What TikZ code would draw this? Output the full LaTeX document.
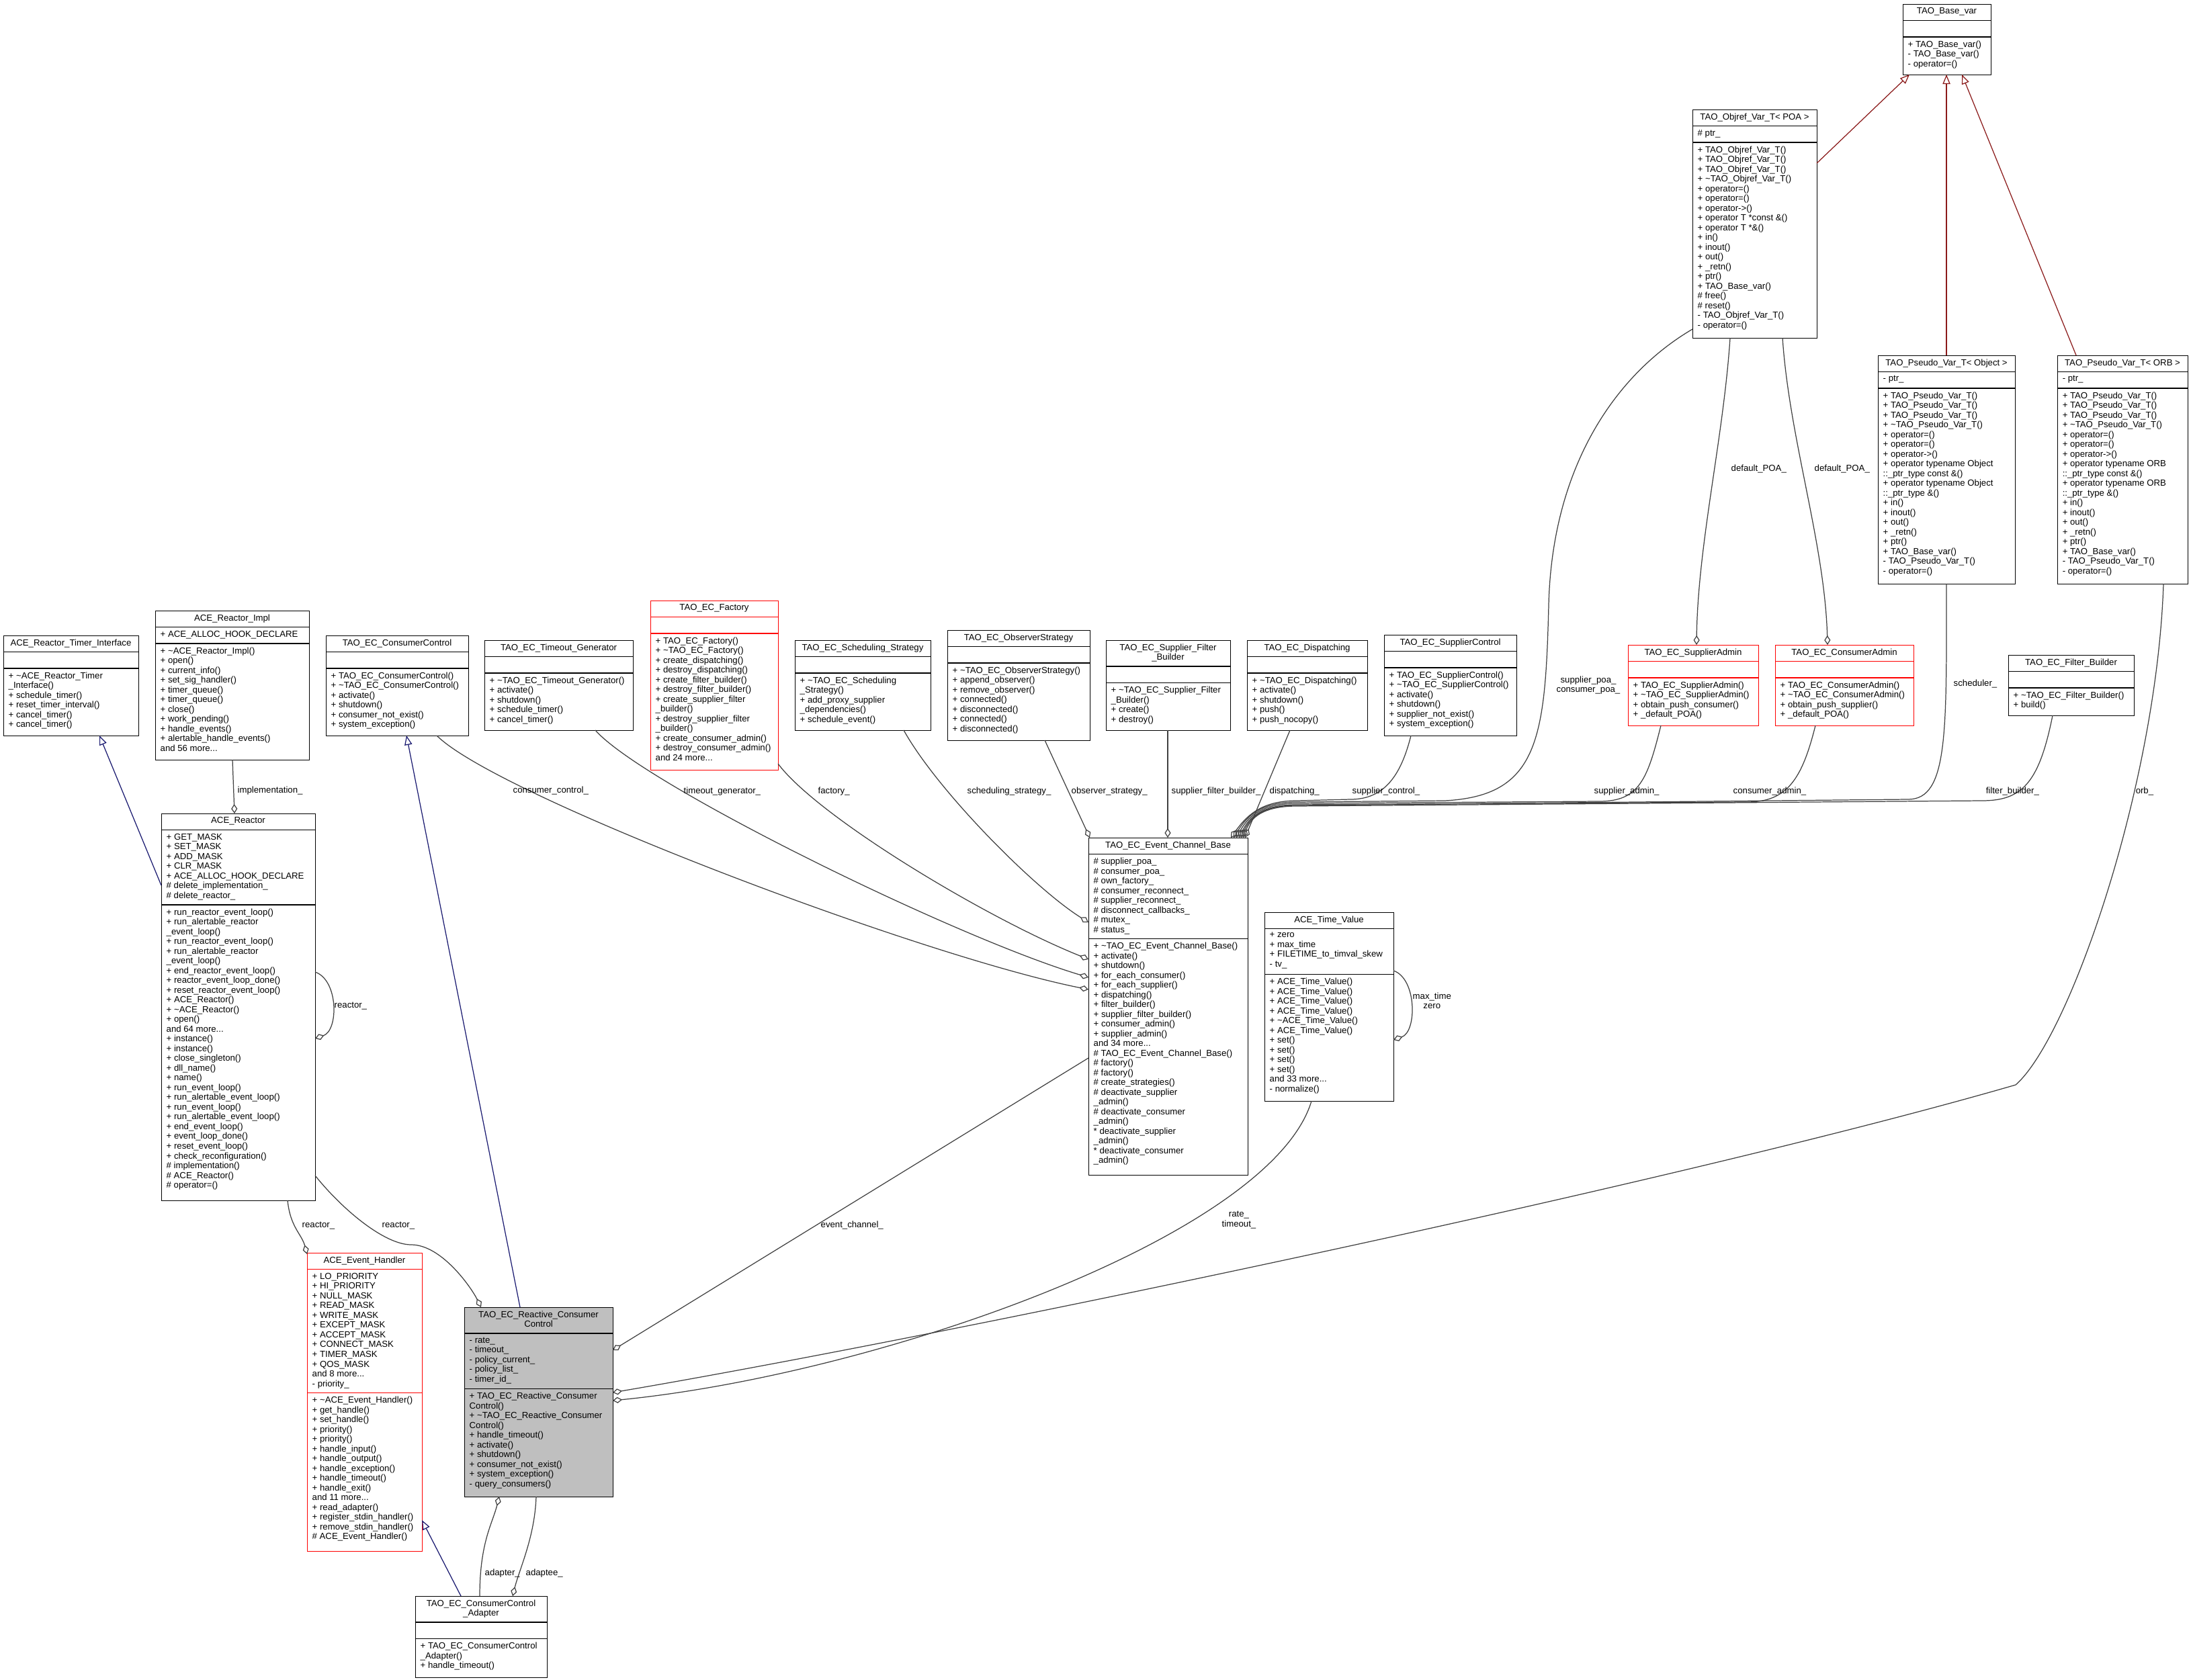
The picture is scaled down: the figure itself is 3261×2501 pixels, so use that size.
\documentclass[tikz,border=0pt]{standalone}
\usepackage{fontspec}
\setmainfont{Liberation Sans}
\usetikzlibrary{calc,arrows.meta}
\definecolor{lnc}{HTML}{404040}
\definecolor{inhblue}{HTML}{191970}
\definecolor{inhred}{HTML}{8B1A1A}
\newcommand\tld{\textasciitilde}
\newcommand\LH{14.5}
\newcommand\umlbox[9]{%
 \pgfmathsetmacro\ua{#3+#6*\LH+10}%
 \pgfmathsetmacro\ub{\ua+max(#7,1)*\LH+10}%
 \node[#8, minimum width={(#4-#2)*0.01cm}, minimum height={(#5-#3)*0.01cm}, anchor=north west, inner sep=0pt] (#1) at (#2,#3) {};
 \draw[#8,fill=none] (#2,\ua) -- (#4,\ua) (#2,\ub) -- (#4,\ub);
 \node[txt, align=center, anchor=north] at ({(#2+#4)/2},{#3+5}) {#9};
 \edef\ux{#2}\edef\uyA{\ua}\edef\uyB{\ub}\umlcont}
\newcommand\umlcont[2]{%
 \node[txt, anchor=north west] at ({\ux+7},{\uyA+5}) {#1};
 \node[txt, anchor=north west] at ({\ux+7},{\uyB+5}) {#2};}
\newcommand\pt[3]{($(#1.north west)+(#2,#3)$)}
\begin{document}
\begin{tikzpicture}[x=0.01cm,y=-0.01cm,
 txt/.style={font=\fontsize{3.75}{4.126}\selectfont, inner sep=0pt, align=left},
 lbl/.style={font=\fontsize{3.75}{4.126}\selectfont, inner sep=0pt, align=center, anchor=west},
 blk/.style={draw=black, line width=0.4pt},
 redb/.style={draw=red, line width=0.4pt},
 grayb/.style={draw=black, fill=black!25, line width=0.4pt},
 agg/.style={draw=lnc, line width=0.35pt, -{Diamond[open,length=4pt,width=2.6pt]}},
 inh/.style={draw=inhblue, line width=0.35pt, -{Triangle[open,length=4pt,width=3.2pt]}},
 tmpl/.style={draw=inhred, line width=0.35pt, -{Triangle[open,length=4pt,width=3.2pt]}}]
\useasboundingbox[fill=white] (0,0) rectangle (3261,2501);

\umlbox{timer}{5}{946}{206}{1095}{1}{0}{blk}{ACE\_Reactor\_Timer\_Interface}{}{+ \tld ACE\_Reactor\_Timer\\\_Interface()\\+ schedule\_timer()\\+ reset\_timer\_interval()\\+ cancel\_timer()\\+ cancel\_timer()}
\umlbox{impl}{231}{909}{460}{1131}{1}{1}{blk}{ACE\_Reactor\_Impl}{+ ACE\_ALLOC\_HOOK\_DECLARE}{+ \tld ACE\_Reactor\_Impl()\\+ open()\\+ current\_info()\\+ set\_sig\_handler()\\+ timer\_queue()\\+ timer\_queue()\\+ close()\\+ work\_pending()\\+ handle\_events()\\+ alertable\_handle\_events()\\and 56 more...}
\umlbox{cc}{485}{946}{697}{1095}{1}{0}{blk}{TAO\_EC\_ConsumerControl}{}{+ TAO\_EC\_ConsumerControl()\\+ \tld TAO\_EC\_ConsumerControl()\\+ activate()\\+ shutdown()\\+ consumer\_not\_exist()\\+ system\_exception()}
\umlbox{tg}{721}{953}{942}{1087}{1}{0}{blk}{TAO\_EC\_Timeout\_Generator}{}{+ \tld TAO\_EC\_Timeout\_Generator()\\+ activate()\\+ shutdown()\\+ schedule\_timer()\\+ cancel\_timer()}
\umlbox{factory}{968}{894}{1158}{1146}{1}{0}{redb}{TAO\_EC\_Factory}{}{+ TAO\_EC\_Factory()\\+ \tld TAO\_EC\_Factory()\\+ create\_dispatching()\\+ destroy\_dispatching()\\+ create\_filter\_builder()\\+ destroy\_filter\_builder()\\+ create\_supplier\_filter\\\_builder()\\+ destroy\_supplier\_filter\\\_builder()\\+ create\_consumer\_admin()\\+ destroy\_consumer\_admin()\\and 24 more...}
\umlbox{sched}{1183}{953}{1385}{1087}{1}{0}{blk}{TAO\_EC\_Scheduling\_Strategy}{}{+ \tld TAO\_EC\_Scheduling\\\_Strategy()\\+ add\_proxy\_supplier\\\_dependencies()\\+ schedule\_event()}
\umlbox{obs}{1410}{938}{1622}{1102}{1}{0}{blk}{TAO\_EC\_ObserverStrategy}{}{+ \tld TAO\_EC\_ObserverStrategy()\\+ append\_observer()\\+ remove\_observer()\\+ connected()\\+ disconnected()\\+ connected()\\+ disconnected()}
\umlbox{sfb}{1646}{953}{1831}{1087}{2}{0}{blk}{TAO\_EC\_Supplier\_Filter\\\_Builder}{}{+ \tld TAO\_EC\_Supplier\_Filter\\\_Builder()\\+ create()\\+ destroy()}
\umlbox{disp}{1856}{953}{2035}{1087}{1}{0}{blk}{TAO\_EC\_Dispatching}{}{+ \tld TAO\_EC\_Dispatching()\\+ activate()\\+ shutdown()\\+ push()\\+ push\_nocopy()}
\umlbox{sc}{2060}{945}{2257}{1095}{1}{0}{blk}{TAO\_EC\_SupplierControl}{}{+ TAO\_EC\_SupplierControl()\\+ \tld TAO\_EC\_SupplierControl()\\+ activate()\\+ shutdown()\\+ supplier\_not\_exist()\\+ system\_exception()}
\umlbox{sa}{2423}{960}{2617}{1080}{1}{0}{redb}{TAO\_EC\_SupplierAdmin}{}{+ TAO\_EC\_SupplierAdmin()\\+ \tld TAO\_EC\_SupplierAdmin()\\+ obtain\_push\_consumer()\\+ \_default\_POA()}
\umlbox{ca}{2642}{960}{2848}{1080}{1}{0}{redb}{TAO\_EC\_ConsumerAdmin}{}{+ TAO\_EC\_ConsumerAdmin()\\+ \tld TAO\_EC\_ConsumerAdmin()\\+ obtain\_push\_supplier()\\+ \_default\_POA()}
\umlbox{fb}{2989}{975}{3176}{1065}{1}{0}{blk}{TAO\_EC\_Filter\_Builder}{}{+ \tld TAO\_EC\_Filter\_Builder()\\+ build()}
\umlbox{base}{2832}{6}{2963}{111}{1}{0}{blk}{TAO\_Base\_var}{}{+ TAO\_Base\_var()\\- TAO\_Base\_var()\\- operator=()}
\umlbox{objref}{2519}{163}{2704}{503}{1}{1}{blk}{TAO\_Objref\_Var\_T< POA >}{\# ptr\_}{+ TAO\_Objref\_Var\_T()\\+ TAO\_Objref\_Var\_T()\\+ TAO\_Objref\_Var\_T()\\+ \tld TAO\_Objref\_Var\_T()\\+ operator=()\\+ operator=()\\+ operator->()\\+ operator T *const \&()\\+ operator T *\&()\\+ in()\\+ inout()\\+ out()\\+ \_retn()\\+ ptr()\\+ TAO\_Base\_var()\\\# free()\\\# reset()\\- TAO\_Objref\_Var\_T()\\- operator=()}
\umlbox{pobj}{2795}{529}{2999}{869}{1}{1}{blk}{TAO\_Pseudo\_Var\_T< Object >}{- ptr\_}{+ TAO\_Pseudo\_Var\_T()\\+ TAO\_Pseudo\_Var\_T()\\+ TAO\_Pseudo\_Var\_T()\\+ \tld TAO\_Pseudo\_Var\_T()\\+ operator=()\\+ operator=()\\+ operator->()\\+ operator typename Object\\::\_ptr\_type const \&()\\+ operator typename Object\\::\_ptr\_type \&()\\+ in()\\+ inout()\\+ out()\\+ \_retn()\\+ ptr()\\+ TAO\_Base\_var()\\- TAO\_Pseudo\_Var\_T()\\- operator=()}
\umlbox{porb}{3062}{529}{3256}{869}{1}{1}{blk}{TAO\_Pseudo\_Var\_T< ORB >}{- ptr\_}{+ TAO\_Pseudo\_Var\_T()\\+ TAO\_Pseudo\_Var\_T()\\+ TAO\_Pseudo\_Var\_T()\\+ \tld TAO\_Pseudo\_Var\_T()\\+ operator=()\\+ operator=()\\+ operator->()\\+ operator typename ORB\\::\_ptr\_type const \&()\\+ operator typename ORB\\::\_ptr\_type \&()\\+ in()\\+ inout()\\+ out()\\+ \_retn()\\+ ptr()\\+ TAO\_Base\_var()\\- TAO\_Pseudo\_Var\_T()\\- operator=()}
\umlbox{ecb}{1620}{1247}{1857}{1749}{1}{8}{blk}{TAO\_EC\_Event\_Channel\_Base}{\# supplier\_poa\_\\\# consumer\_poa\_\\\# own\_factory\_\\\# consumer\_reconnect\_\\\# supplier\_reconnect\_\\\# disconnect\_callbacks\_\\\# mutex\_\\\# status\_}{+ \tld TAO\_EC\_Event\_Channel\_Base()\\+ activate()\\+ shutdown()\\+ for\_each\_consumer()\\+ for\_each\_supplier()\\+ dispatching()\\+ filter\_builder()\\+ supplier\_filter\_builder()\\+ consumer\_admin()\\+ supplier\_admin()\\and 34 more...\\\# TAO\_EC\_Event\_Channel\_Base()\\\# factory()\\\# factory()\\\# create\_strategies()\\\# deactivate\_supplier\\\_admin()\\\# deactivate\_consumer\\\_admin()\\* deactivate\_supplier\\\_admin()\\* deactivate\_consumer\\\_admin()}
\umlbox{tv}{1882}{1358}{2074}{1639}{1}{4}{blk}{ACE\_Time\_Value}{+ zero\\+ max\_time\\+ FILETIME\_to\_timval\_skew\\- tv\_}{+ ACE\_Time\_Value()\\+ ACE\_Time\_Value()\\+ ACE\_Time\_Value()\\+ ACE\_Time\_Value()\\+ \tld ACE\_Time\_Value()\\+ ACE\_Time\_Value()\\+ set()\\+ set()\\+ set()\\+ set()\\and 33 more...\\- normalize()}
\umlbox{reactor}{240}{1211}{469}{1787}{1}{7}{blk}{ACE\_Reactor}{+ GET\_MASK\\+ SET\_MASK\\+ ADD\_MASK\\+ CLR\_MASK\\+ ACE\_ALLOC\_HOOK\_DECLARE\\\# delete\_implementation\_\\\# delete\_reactor\_}{+ run\_reactor\_event\_loop()\\+ run\_alertable\_reactor\\\_event\_loop()\\+ run\_reactor\_event\_loop()\\+ run\_alertable\_reactor\\\_event\_loop()\\+ end\_reactor\_event\_loop()\\+ reactor\_event\_loop\_done()\\+ reset\_reactor\_event\_loop()\\+ ACE\_Reactor()\\+ \tld ACE\_Reactor()\\+ open()\\and 64 more...\\+ instance()\\+ instance()\\+ close\_singleton()\\+ dll\_name()\\+ name()\\+ run\_event\_loop()\\+ run\_alertable\_event\_loop()\\+ run\_event\_loop()\\+ run\_alertable\_event\_loop()\\+ end\_event\_loop()\\+ event\_loop\_done()\\+ reset\_event\_loop()\\+ check\_reconfiguration()\\\# implementation()\\\# ACE\_Reactor()\\\# operator=()}
\umlbox{eh}{457}{1865}{628}{2309}{1}{12}{redb}{ACE\_Event\_Handler}{+ LO\_PRIORITY\\+ HI\_PRIORITY\\+ NULL\_MASK\\+ READ\_MASK\\+ WRITE\_MASK\\+ EXCEPT\_MASK\\+ ACCEPT\_MASK\\+ CONNECT\_MASK\\+ TIMER\_MASK\\+ QOS\_MASK\\and 8 more...\\- priority\_}{+ \tld ACE\_Event\_Handler()\\+ get\_handle()\\+ set\_handle()\\+ priority()\\+ priority()\\+ handle\_input()\\+ handle\_output()\\+ handle\_exception()\\+ handle\_timeout()\\+ handle\_exit()\\and 11 more...\\+ read\_adapter()\\+ register\_stdin\_handler()\\+ remove\_stdin\_handler()\\\# ACE\_Event\_Handler()}
\umlbox{rcc}{691}{1946}{912}{2228}{2}{5}{grayb}{TAO\_EC\_Reactive\_Consumer\\Control}{- rate\_\\- timeout\_\\- policy\_current\_\\- policy\_list\_\\- timer\_id\_}{+ TAO\_EC\_Reactive\_Consumer\\Control()\\+ \tld TAO\_EC\_Reactive\_Consumer\\Control()\\+ handle\_timeout()\\+ activate()\\+ shutdown()\\+ consumer\_not\_exist()\\+ system\_exception()\\- query\_consumers()}
\umlbox{adapter}{618}{2376}{814}{2497}{2}{0}{blk}{TAO\_EC\_ConsumerControl\\\_Adapter}{}{+ TAO\_EC\_ConsumerControl\\\_Adapter()\\+ handle\_timeout()}

% inheritance
\draw[inh] \pt{reactor}{0}{107} -- \pt{timer}{143}{149};
\draw[inh] \pt{rcc}{83}{0} -- \pt{cc}{120}{149};
\draw[inh] \pt{adapter}{68}{0} -- \pt{eh}{171}{398};
\draw[tmpl] \pt{objref}{185}{80} -- \pt{base}{10}{105};
\draw[tmpl] \pt{pobj}{102}{0} -- \pt{base}{65}{105};
\draw[tmpl] \pt{porb}{28}{0} -- \pt{base}{88}{105};

% aggregation
\draw[agg] \pt{impl}{115}{222} -- \pt{reactor}{109}{0};
\node[lbl] at (353,1177) {implementation\_};
\draw[agg] \pt{reactor}{229}{236} .. controls +(35,12) and +(35,-12) .. \pt{reactor}{229}{335};
\node[lbl] at (497,1498) {reactor\_};
\draw[agg] \pt{reactor}{188}{576} .. controls +(4,40) and +(-8,-30) .. \pt{eh}{0}{2};
\node[lbl] at (449,1825) {reactor\_};
\draw[agg] \pt{reactor}{229}{539} .. controls +(40,50) and +(-40,0) .. (612,1853) .. controls +(45,0) and +(-15,-30) .. \pt{rcc}{25}{0};
\node[lbl] at (568,1825) {reactor\_};
\draw[agg] \pt{adapter}{96}{0} .. controls +(0,-80) and +(-10,40) .. \pt{rcc}{52}{282};
\draw[agg] \pt{rcc}{107}{282} .. controls +(-2,60) and +(10,-40) .. \pt{adapter}{145}{0};
\node[lbl] at (721,2342) {adapter\_};
\node[lbl] at (782,2342) {adaptee\_};
\draw[agg] \pt{ecb}{0}{328} -- \pt{rcc}{221}{64};
\node[lbl] at (1221,1824) {event\_channel\_};
\draw[agg] \pt{tv}{70}{281} .. controls +(-60,200) and +(400,-40) .. \pt{rcc}{221}{139};
\node[lbl] at (1818,1816) {rate\_\\timeout\_};
\draw[agg] \pt{porb}{158}{340} .. controls +(-10,300) and +(80,-70) .. (3000,1615) .. controls (2500,1760) and (1400,1990) .. \pt{rcc}{221}{127};
\node[lbl] at (3178,1178) {orb\_};
\draw[agg] \pt{tv}{192}{87} .. controls +(35,12) and +(35,-12) .. \pt{tv}{192}{190};
\node[lbl] at (2102,1490) {max\_time\\zero};

\draw[agg] \pt{cc}{165}{149} .. controls +(90,90) and +(-250,-50) .. \pt{ecb}{0}{226};
\node[lbl] at (763,1177) {consumer\_control\_};
\draw[agg] \pt{tg}{165}{134} .. controls +(70,80) and +(-200,-60) .. \pt{ecb}{0}{208};
\node[lbl] at (1017,1178) {timeout\_generator\_};
\draw[agg] \pt{factory}{190}{243} .. controls +(60,80) and +(-150,-60) .. \pt{ecb}{0}{181};
\node[lbl] at (1217,1178) {factory\_};
\draw[agg] \pt{sched}{162}{134} .. controls +(50,90) and +(-80,-50) .. \pt{ecb}{0}{126};
\node[lbl] at (1439,1178) {scheduling\_strategy\_};
\draw[agg] \pt{obs}{145}{164} -- \pt{ecb}{2}{0};
\node[lbl] at (1594,1178) {observer\_strategy\_};
\draw[agg] \pt{sfb}{92}{134} -- \pt{ecb}{118}{0};
\node[lbl] at (1743,1178) {supplier\_filter\_builder\_};
\draw[agg] \pt{disp}{64}{134} -- \pt{ecb}{233}{0};
\node[lbl] at (1889,1178) {dispatching\_};

\draw[agg] \pt{sc}{40}{150} .. controls +(-15,60) and +(50,0) .. (2010,1190) -- (1930,1192) .. controls +(-50,0) and +(25,-35) .. \pt{ecb}{212}{0};
\node[lbl] at (2012,1178) {supplier\_control\_};
\draw[agg] \pt{objref}{0}{327} .. controls (2400,560) and (2310,700) .. (2305,900) .. controls (2300,1100) and (2290,1185) .. (2150,1192) -- (1930,1194) .. controls +(-50,0) and +(22,-35) .. \pt{ecb}{216}{0};
\node[lbl] at (2316,1020) {supplier\_poa\_\\consumer\_poa\_};
\draw[agg] \pt{sa}{49}{120} .. controls +(-20,80) and +(60,0) .. (2380,1193) -- (1930,1196) .. controls +(-48,0) and +(20,-35) .. \pt{ecb}{220}{0};
\node[lbl] at (2372,1178) {supplier\_admin\_};
\draw[agg] \pt{ca}{60}{120} .. controls +(-20,80) and +(60,0) .. (2600,1194) -- (1930,1198) .. controls +(-46,0) and +(18,-35) .. \pt{ecb}{224}{0};
\node[lbl] at (2579,1178) {consumer\_admin\_};
\draw[agg] \pt{pobj}{102}{340} .. controls +(0,220) and +(60,0) .. (2840,1190) -- (1930,1199) .. controls +(-44,0) and +(16,-35) .. \pt{ecb}{227}{0};
\node[lbl] at (2907,1018) {scheduler\_};
\draw[agg] \pt{fb}{66}{90} .. controls +(-20,100) and +(60,0) .. (2950,1192) -- (1930,1200) .. controls +(-42,0) and +(14,-35) .. \pt{ecb}{230}{0};
\node[lbl] at (2955,1178) {filter\_builder\_};

\draw[agg] \pt{objref}{56}{340} .. controls +(-10,150) and +(2,-150) .. \pt{sa}{102}{0};
\node[lbl] at (2576,698) {default\_POA\_};
\draw[agg] \pt{objref}{134}{340} .. controls +(10,150) and +(-4,-150) .. \pt{ca}{78}{0};
\node[lbl] at (2700,698) {default\_POA\_};
\end{tikzpicture}
\end{document}
